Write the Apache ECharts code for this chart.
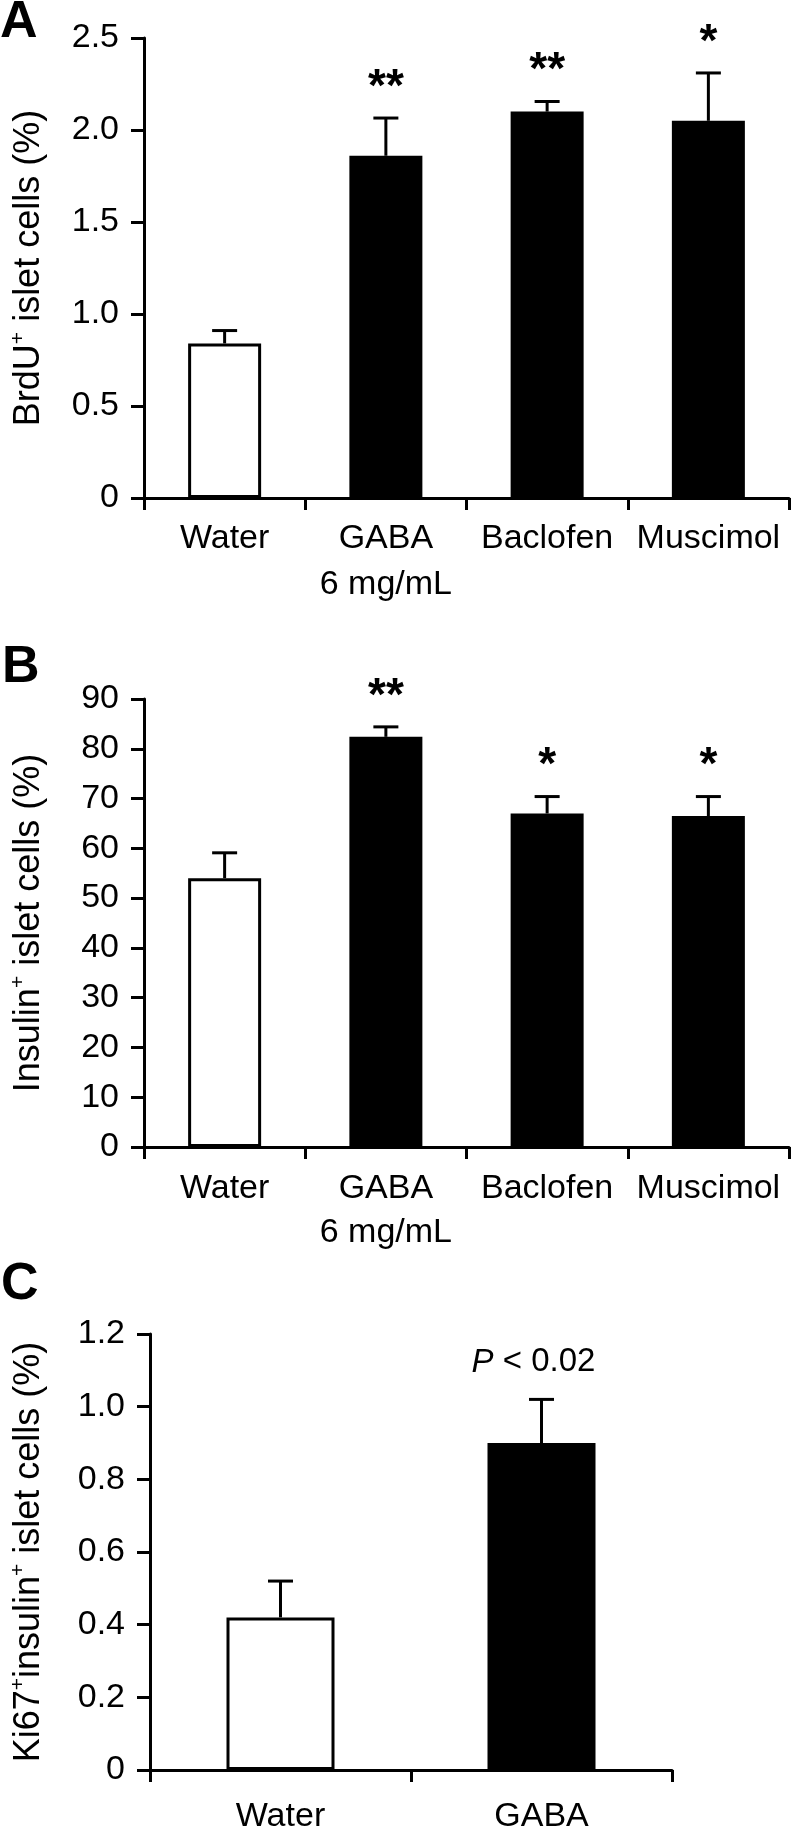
<!DOCTYPE html>
<html>
<head>
<meta charset="utf-8">
<script src="https://cdn.jsdelivr.net/npm/echarts@6/dist/echarts.min.js"></script>
<style>
html,body{margin:0;padding:0;background:#fff;}
#chart{width:792px;height:1840px;}
</style>
</head>
<body>
<div id="chart"></div>
<script>
// ---------- DATA ----------
const categoriesAB = ['Water', 'GABA\n6 mg/mL', 'Baclofen', 'Muscimol'];
const brduMean = [0.84, 1.86, 2.10, 2.05];
const brduSem = [0.07, 0.205, 0.055, 0.26];
const brduSig = ['', '**', '**', '*'];
const brduTicks = ['0', '0.5', '1.0', '1.5', '2.0', '2.5'];

const insulinMean = [54.0, 82.4, 67.0, 66.5];
const insulinSem = [5.1, 2.0, 3.4, 3.9];
const insulinSig = ['', '**', '*', '*'];
const insulinTicks = ['0', '10', '20', '30', '40', '50', '60', '70', '80', '90'];

const categoriesC = ['Water', 'GABA'];
const ki67Mean = [0.42, 0.90];
const ki67Sem = [0.10, 0.12];
const ki67Sig = ['', '{i|P} < 0.02'];
const ki67Ticks = ['0', '0.2', '0.4', '0.6', '0.8', '1.0', '1.2'];

// ---------- BUILD ----------
const FONT = "'Liberation Sans', Arial, Helvetica, sans-serif";
const chart = echarts.init(document.getElementById('chart'), null, {renderer: 'canvas'});

function barData(means) {
  return means.map((v, i) => ({
    value: v,
    itemStyle: i === 0 ? {color: '#fff', borderColor: '#000', borderWidth: 3} : {color: '#000', borderWidth: 0}
  }));
}
function errData(means, sems, sig) {
  return means.map((v, i) => [i, v, v + sems[i], sig[i]]);
}
function errRender(params, api) {
  const base = api.coord([api.value(0), api.value(1)]);
  const top = api.coord([api.value(0), api.value(2)]);
  const s = api.value(3);
  const x = base[0];
  const half = 12.5;
  const children = [
    {type: 'line', shape: {x1: x, y1: base[1], x2: x, y2: top[1]}, style: {stroke: '#000', lineWidth: 3}},
    {type: 'line', shape: {x1: x - half, y1: top[1], x2: x + half, y2: top[1]}, style: {stroke: '#000', lineWidth: 3}}
  ];
  if (s) {
    const isP = s.indexOf('{i|') >= 0;
    children.push({
      type: 'text',
      style: isP ? {
        x: x - 8, y: top[1] - 37, text: s, align: 'center', verticalAlign: 'middle',
        fill: '#000', font: '33px ' + FONT,
        rich: {i: {fontStyle: 'italic', fontSize: 33, fontFamily: FONT, fill: '#000'}}
      } : {
        x: x, y: top[1] - 30, text: s, align: 'center', verticalAlign: 'middle',
        fill: '#000', font: 'bold 46px ' + FONT
      }
    });
  }
  return {type: 'group', children: children};
}

const nameRich = {
  t: {fontSize: 36, fontFamily: FONT, color: '#000', lineHeight: 42},
  s: {fontSize: 21, fontFamily: FONT, color: '#000', lineHeight: 42, verticalAlign: 'top', padding: [0, 0, 14, 0]}
};

const grids = [
  {left: 143, top: 38, width: 646, height: 460},
  {left: 142, top: 699, width: 647, height: 448},
  {left: 141, top: 1334, width: 531, height: 447}
];

function xAxis(idx, cats, margin, lh) {
  return {
    type: 'category', gridIndex: idx, data: cats, boundaryGap: true,
    axisLine: {lineStyle: {color: '#000', width: 3}},
    axisTick: {show: true, length: 12, lineStyle: {color: '#000', width: 3}, alignWithLabel: false},
    axisLabel: {interval: 0, color: '#000', fontSize: 34, fontFamily: FONT, margin: margin, lineHeight: lh},
    splitLine: {show: false}
  };
}
function yAxis(idx, max, interval, ticks, name, gap) {
  return {
    type: 'value', gridIndex: idx, min: 0, max: max, interval: interval,
    name: name, nameLocation: 'middle', nameGap: gap, nameRotate: 90,
    nameTextStyle: {rich: nameRich, color: '#000'},
    axisLine: {show: true, lineStyle: {color: '#000', width: 3}},
    axisTick: {show: true, length: 13, lineStyle: {color: '#000', width: 3}},
    axisLabel: {color: '#000', fontSize: 34, fontFamily: FONT, margin: 25,
      formatter: (v, i) => ticks[Math.round(v / interval)]},
    splitLine: {show: false}
  };
}

const option = {
  animation: false,
  backgroundColor: '#fff',
  grid: grids,
  xAxis: [
    xAxis(0, categoriesAB, 18, 46),
    xAxis(1, categoriesAB, 20, 44),
    xAxis(2, categoriesC, 24, 46)
  ],
  yAxis: [
    yAxis(0, 2.5, 0.5, brduTicks, '{t|BrdU}{s|+}{t| islet cells (%)}', 94),
    yAxis(1, 90, 10, insulinTicks, '{t|Insulin}{s|+}{t| islet cells (%)}', 94),
    yAxis(2, 1.2, 0.2, ki67Ticks, '{t|Ki67}{s|+}{t|insulin}{s|+}{t| islet cells (%)}', 100)
  ],
  series: [
    {type: 'bar', xAxisIndex: 0, yAxisIndex: 0, data: barData(brduMean), barWidth: 73, z: 2},
    {type: 'custom', xAxisIndex: 0, yAxisIndex: 0, data: errData(brduMean, brduSem, brduSig), renderItem: errRender, z: 3},
    {type: 'bar', xAxisIndex: 1, yAxisIndex: 1, data: barData(insulinMean), barWidth: 73, z: 2},
    {type: 'custom', xAxisIndex: 1, yAxisIndex: 1, data: errData(insulinMean, insulinSem, insulinSig), renderItem: errRender, z: 3},
    {type: 'bar', xAxisIndex: 2, yAxisIndex: 2, data: barData(ki67Mean), barWidth: 108, z: 2},
    {type: 'custom', xAxisIndex: 2, yAxisIndex: 2, data: errData(ki67Mean, ki67Sem, ki67Sig), renderItem: errRender, z: 3}
  ],
  graphic: [
    {type: 'text', left: 0, top: -3, style: {text: 'A', font: 'bold 52px ' + FONT, fill: '#000'}},
    {type: 'text', left: 2, top: 642, style: {text: 'B', font: 'bold 52px ' + FONT, fill: '#000'}},
    {type: 'text', left: 1, top: 1259, style: {text: 'C', font: 'bold 52px ' + FONT, fill: '#000'}}
  ]
};
chart.setOption(option);
</script>
</body>
</html>
